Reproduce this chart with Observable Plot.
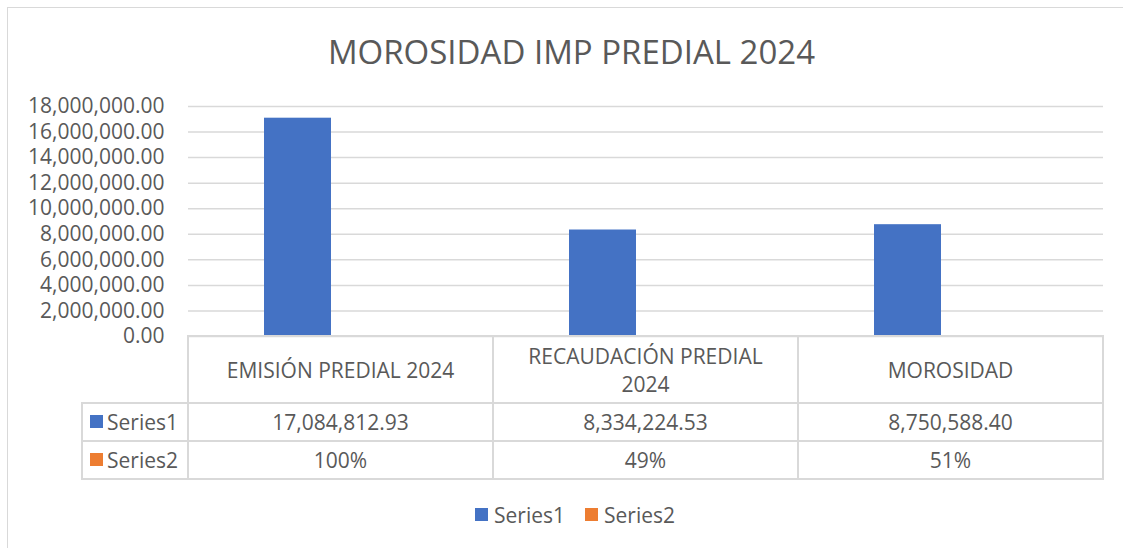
<!DOCTYPE html>
<html><head><meta charset="utf-8">
<script src="https://cdn.jsdelivr.net/npm/d3@7"></script>
<script src="https://cdn.jsdelivr.net/npm/@observablehq/plot@0.6"></script>
<style>
body{margin:0;background:#fff;}
#c{position:relative;width:1123px;height:548px;overflow:hidden;font-family:"Open Sans",sans-serif;color:#595959;background:#fff;}
#frame{position:absolute;left:7px;top:7px;width:1200px;height:700px;border-left:1.5px solid #d9d9d9;border-top:1.5px solid #d9d9d9;}
#title{position:absolute;left:7px;width:1129px;top:35px;text-align:center;font-size:33px;line-height:33px;white-space:nowrap;}
#plot{position:absolute;left:0;top:0;}
.hl,.vl{position:absolute;background:#d9d9d9;}
.cell{position:absolute;display:flex;align-items:center;justify-content:center;text-align:center;font-size:21px;line-height:28px;}
.key{position:absolute;width:13px;height:13px;}
.lab{position:absolute;font-size:21px;line-height:28px;white-space:nowrap;}
</style></head><body><div id="c"><div id="frame"></div><div id="title">MOROSIDAD IMP PREDIAL 2024</div></div>
<script>
const categories = ["EMISIÓN PREDIAL 2024", "RECAUDACIÓN PREDIAL 2024", "MOROSIDAD"];
const seriesNames = ["Series1", "Series2"];
const series1 = [17084812.93, 8334224.53, 8750588.40];
const series2 = [1.00, 0.49, 0.51];
const yTicks = [0, 2000000, 4000000, 6000000, 8000000, 10000000, 12000000, 14000000, 16000000, 18000000];
const colors = ["#4472C4", "#ED7D31"];

const rows = [];
categories.forEach((c, i) => {
  rows.push({cat: c, series: "Series1", value: series1[i]});
  rows.push({cat: c, series: "Series2", value: series2[i]});
});

const chart = Plot.plot({
  width: 1123, height: 340,
  marginTop: 106, marginBottom: 4, marginLeft: 187, marginRight: 20,
  style: {fontFamily: "Open Sans", fontSize: "21px", color: "#595959", background: "transparent", overflow: "visible"},
  fx: {domain: categories, paddingInner: 0, paddingOuter: 0, axis: null},
  x: {domain: seriesNames, paddingInner: 0.218, paddingOuter: 0.862, axis: null},
  y: {domain: [0, 18000000], axis: null},
  color: {domain: seriesNames, range: colors},
  marks: [
    Plot.gridY(yTicks, {stroke: "#d9d9d9", strokeOpacity: 1, strokeWidth: 1.5}),
    Plot.axisY(yTicks, {tickFormat: d3.format(",.2f"), tickSize: 0, tickPadding: 24, label: null, fill: "#595959", fontSize: 21}),
    Plot.barY(rows, {fx: "cat", x: "series", y: "value", fill: "series", insetLeft: 0, insetRight: 0})
  ]
});
chart.id = "plot";
const c = document.getElementById("c");
c.appendChild(chart);

// data table aligned to the facet scale
const fx = chart.scale("fx");
const yS = chart.scale("y");
const bw = fx.bandwidth;
const colX = categories.map(cat => fx.apply(cat));
const x0 = colX[0], xEnd = colX[colX.length - 1] + bw;
const keyLeft = 82;
const top0 = yS.apply(0);
const headH = 67, rowH = 38;
const rowTops = [top0, top0 + headH, top0 + headH + rowH, top0 + headH + 2 * rowH];
const lw = 2;
function add(cls, l, t, w, h, html, extra) {
  const d = document.createElement("div");
  d.className = cls;
  d.style.left = l + "px"; d.style.top = t + "px";
  if (w != null) d.style.width = w + "px";
  if (h != null) d.style.height = h + "px";
  if (html != null) d.innerHTML = html;
  if (extra) Object.assign(d.style, extra);
  c.appendChild(d);
  return d;
}
// horizontal lines
add("hl", x0 - lw / 2, rowTops[0] - lw / 2, xEnd - x0 + lw, lw);
for (let r = 1; r < 4; r++) add("hl", keyLeft - lw / 2, rowTops[r] - lw / 2, xEnd - keyLeft + lw, lw);
// vertical lines
add("vl", keyLeft - lw / 2, rowTops[1] - lw / 2, lw, rowTops[3] - rowTops[1] + lw);
[...colX, xEnd].forEach(x => add("vl", x - lw / 2, rowTops[0] - lw / 2, lw, rowTops[3] - rowTops[0] + lw));
// headers
categories.forEach((cat, i) => {
  const d = add("cell", colX[i], rowTops[0], bw, headH, null);
  const s = document.createElement("span");
  s.textContent = cat;
  s.style.maxWidth = "262px"; s.style.display = "inline-block";
  d.appendChild(s);
});
const f1 = d3.format(",.2f"), f2 = d3.format(".0%");
const seriesVals = [series1.map(f1), series2.map(f2)];
seriesNames.forEach((name, r) => {
  const t = rowTops[r + 1];
  add("key", keyLeft + 8, t + rowH / 2 - 7, null, null, null, {background: colors[r]});
  add("lab", keyLeft + 25, t + rowH / 2 - 14, null, null, name);
  seriesVals[r].forEach((v, i) => add("cell", colX[i], t, bw, rowH, v));
});
// legend
const legY = 515;
const legX = [475, 585];
seriesNames.forEach((name, r) => {
  add("key", legX[r], legY - 7, 13, 13, null, {background: colors[r]});
  add("lab", legX[r] + 19, legY - 14, null, null, name);
});
</script></body></html>
